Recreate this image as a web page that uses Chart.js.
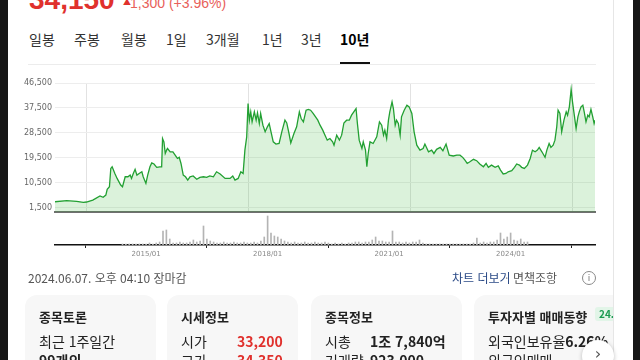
<!DOCTYPE html>
<html lang="ko">
<head>
<meta charset="utf-8">
<script src="https://cdn.jsdelivr.net/npm/chart.js@4.4.1/dist/chart.umd.min.js"></script>
<style>
  html, body { margin: 0; padding: 0; }
  body {
    width: 640px; height: 360px; overflow: hidden; position: relative;
    background: #fff; font-family: "Noto Sans CJK KR", sans-serif; color: #222;
  }
  .t { position: absolute; white-space: nowrap; line-height: 1; }
  .tab { top: 32px; font-size: 14px; color: #333; }
  canvas { position: absolute; left: 0; top: 0; }
  .card { position: absolute; top: 295px; height: 90px; background: #f7f7f7; border-radius: 12px; }
  .card .ttl { position: absolute; left: 14px; top: 15px; font-size: 13px; font-weight: bold; color: #222; line-height: 1; white-space: nowrap; }
  .card .row { position: absolute; left: 14px; font-size: 14px; line-height: 1; white-space: nowrap; color: #222; }
  .gray { color: #777; }
</style>
</head>
<body>
<!-- 좌우 검은 테두리 -->
<div style="position:absolute;left:0;top:0;width:8px;height:360px;background:#161616"></div>
<div style="position:absolute;left:633px;top:0;width:7px;height:360px;background:#161616"></div>
<div style="position:absolute;left:613px;top:0;width:1px;height:360px;background:#e6e6e6"></div>

<!-- 현재가 (윗부분 잘림) -->
<div class="t" style="left:29px;top:-16px;font:bold 28px 'Liberation Sans',Arial,sans-serif;color:#e0312d">34,150</div>
<div class="t" style="left:123px;top:-2px;font-size:8px;color:#e0312d">▲</div>
<div class="t" style="left:130px;top:-5px;font:14px 'Liberation Sans',Arial,sans-serif;color:#e8605a">1,300 (+3.96%)</div>

<!-- 기간 탭 -->
<div class="t tab" style="left:29px">일봉</div>
<div class="t tab" style="left:74px">주봉</div>
<div class="t tab" style="left:121px">월봉</div>
<div class="t tab" style="left:166px">1일</div>
<div class="t tab" style="left:206px">3개월</div>
<div class="t tab" style="left:262px">1년</div>
<div class="t tab" style="left:301px">3년</div>
<div class="t tab" style="left:340px;font-weight:bold;color:#000">10년</div>
<div style="position:absolute;left:28px;top:64px;width:568px;height:1px;background:#ececec"></div>
<div style="position:absolute;left:340px;top:62px;width:30px;height:2px;background:#111"></div>

<canvas id="priceChart" width="640" height="360"></canvas>
<canvas id="volumeChart" width="640" height="360"></canvas>

<!-- 하단 정보 -->
<div class="t" style="left:28px;top:272px;font-size:12px;color:#555">2024.06.07. 오후 04:10 장마감</div>
<div class="t" style="left:452px;top:272px;font-size:12px;color:#2b4a86">차트 더보기</div>
<div class="t" style="left:505px;top:272px;font-size:12px;color:#999">·</div>
<div class="t" style="left:513px;top:272px;font-size:12px;color:#555">면책조항</div>
<div style="position:absolute;left:582px;top:271px;width:12px;height:12px;border:1px solid #888;border-radius:50%;font:9px 'DejaVu Sans';color:#777;text-align:center;line-height:12px">i</div>

<!-- 카드 -->
<div style="position:absolute;left:0;top:0;width:613px;height:360px;overflow:hidden">
  <div class="card" style="left:25px;width:131px">
    <div class="ttl">종목토론</div>
    <div class="row" style="top:39px">최근 1주일간</div>
    <div class="row" style="top:58px;font-weight:bold">99개의</div>
  </div>
  <div class="card" style="left:167px;width:131px">
    <div class="ttl">시세정보</div>
    <div class="row gray" style="top:39px">시가</div>
    <div class="row" style="top:39px;left:70px;font-weight:bold;color:#e0312d">33,200</div>
    <div class="row gray" style="top:58px">고가</div>
    <div class="row" style="top:58px;left:70px;font-weight:bold;color:#e0312d">34,350</div>
  </div>
  <div class="card" style="left:311px;width:151px">
    <div class="ttl">종목정보</div>
    <div class="row gray" style="top:39px">시총</div>
    <div class="row" style="top:39px;left:59px;font-weight:bold">1조 7,840억</div>
    <div class="row gray" style="top:58px">거래량</div>
    <div class="row" style="top:58px;left:59px;font-weight:bold">923,000</div>
  </div>
  <div class="card" style="left:474px;width:160px">
    <div class="ttl">투자자별 매매동향</div>
    <div style="position:absolute;left:121px;top:12px;padding:2px 4px;background:#e2f5e8;color:#1a9a50;font-size:10px;font-weight:bold;border-radius:3px;line-height:1">24.06.07</div>
    <div class="row gray" style="top:39px">외국인보유율<b style="color:#222">6.26%</b></div>
    <div class="row gray" style="top:58px">외국인매매</div>
  </div>
</div>
<div style="position:absolute;left:582px;top:340px;width:32px;height:32px;border-radius:50%;background:#fff;box-shadow:0 1px 4px rgba(0,0,0,0.25);font:16px 'DejaVu Sans';color:#555;text-align:center;line-height:28px">&#8250;</div>

<script>
// 10년 차트: 2014/06 = 0 기준, 개월 수
const months = [0, 2.6, 4.8, 6.3, 7.0, 8.4, 10.0, 10.7, 11.3, 11.6, 12.1, 12.4, 12.7, 13.3, 13.8, 14.6, 15.0, 15.6, 16.2, 16.7,
  17.0, 17.4, 17.8, 18.2, 18.7, 19.3, 19.6, 20.2, 20.6, 21.1, 21.5, 22.0, 22.6, 23.3, 23.7, 23.9, 24.2, 24.5, 24.8, 25.0,
  25.6, 26.2, 26.7, 27.2, 27.6, 28.0, 28.5, 29.0, 29.5, 30.0, 30.7, 31.5, 32.2, 33.0, 33.7, 34.4, 35.2, 35.9, 36.7, 37.8,
  38.9, 39.5, 40.0, 40.7, 41.3, 41.8, 42.2, 42.6, 42.9, 43.2, 43.5, 43.8, 44.3, 44.7, 45.0, 45.4, 45.7, 46.2, 46.7, 47.2,
  47.6, 48.0, 48.5, 49.1, 49.8, 50.4, 51.1, 51.5, 52.0, 52.4, 53.1, 53.7, 54.3, 54.7, 55.2, 55.8, 56.3, 56.8, 57.4, 57.9,
  58.4, 58.9, 59.5, 60.0, 60.5, 61.1, 61.7, 62.0, 62.6, 63.2, 63.7, 64.2, 64.8, 65.4, 65.9, 66.4, 66.9, 67.2, 67.6, 68.2,
  68.5, 69.0, 69.3, 69.6, 70.0, 70.7, 71.5, 72.1, 72.6, 73.0, 73.3, 73.7, 74.1, 74.4, 74.9, 75.2, 75.6, 75.9, 76.3, 76.7,
  77.0, 77.6, 78.2, 78.7, 79.3, 79.8, 80.4, 81.1, 81.8, 82.2, 83.0, 83.7, 84.2, 84.8, 85.6, 86.2, 86.9, 87.6, 88.5, 89.3,
  90.0, 90.6, 91.1, 91.6, 92.2, 93.0, 93.7, 94.4, 95.2, 95.8, 96.3, 97.0, 97.8, 98.5, 99.0, 99.6, 100.2, 100.7, 101.5, 102.1,
  102.6, 103.2, 103.7, 104.3, 105.0, 105.6, 106.1, 106.7, 107.2, 107.6, 108.2, 108.9, 109.3, 109.8, 110.2, 110.7, 111.1, 111.5, 111.8, 112.2,
  112.6, 113.1, 113.6, 113.9, 114.3, 114.7, 115.0, 115.4, 115.8, 116.2, 116.5, 116.9, 117.3, 117.6, 118.0, 118.4, 118.7, 119.1, 119.5, 119.8,
  120.0]
const prices = [3700, 4100, 3850, 3500, 3600, 4300, 5800, 5300, 6100, 8200, 9100, 15700, 16300, 13900, 12100, 9700, 9100, 12700, 12700, 13300,
  12100, 13900, 15400, 13300, 13900, 14500, 12700, 10300, 13300, 16300, 17700, 17300, 16100, 16300, 16300, 26500, 25300, 21100, 22300, 22900,
  21700, 21700, 20500, 19300, 19700, 17500, 13300, 12700, 11500, 12700, 13000, 11800, 12500, 12700, 12500, 13000, 12700, 14500, 13700, 12100,
  12100, 13000, 11500, 12100, 14500, 13900, 22300, 27100, 39100, 33100, 36100, 32500, 36100, 33100, 35700, 31900, 35500, 31300, 28900, 30700,
  31900, 28900, 25300, 24500, 24700, 28900, 33100, 32100, 28300, 24900, 28300, 30700, 36100, 33700, 32500, 36700, 37000, 36700, 35500, 34300,
  33100, 31300, 29500, 27700, 25900, 26500, 25300, 24100, 27700, 25900, 27700, 32100, 33100, 33100, 34900, 36100, 37300, 31900, 25900, 22900,
  25300, 22300, 16300, 21100, 25300, 24700, 27100, 32500, 31300, 27700, 29500, 26500, 33100, 36100, 39700, 37300, 31300, 33100, 31900, 27700,
  34300, 36700, 38500, 37900, 35500, 28900, 24100, 22300, 22900, 24500, 21700, 22300, 21100, 22600, 23300, 22100, 24500, 20500, 20200, 20500,
  20500, 19700, 18700, 17500, 18100, 19000, 18500, 17300, 16300, 17500, 16100, 16900, 16100, 16600, 15100, 13700, 13900, 14500, 14900, 16100,
  17300, 16900, 16100, 15700, 16900, 19300, 22300, 21700, 22300, 23300, 21700, 19700, 22300, 24700, 23300, 24100, 25900, 30700, 36700, 35500,
  28900, 33100, 36100, 34900, 37900, 44200, 39700, 34900, 30100, 34300, 36100, 37900, 38500, 36100, 32500, 34900, 34300, 37000, 34300, 31900,
  33100]

// 월별 거래량 (단위 임의, 2014/06 ~ 2024/06)
const volumes = [1, 1, 1, 1, 1, 1, 1, 1, 2, 1, 2,
  3, 14, 15, 6, 2,
  2, 3, 2, 2, 3, 5, 3,
  4, 19, 6, 4,
  3, 2, 2, 3, 2, 2, 3, 2, 2, 3,
  2, 2, 3, 2, 4,
  8, 29, 12, 9, 8, 6, 4,
  3, 2, 3, 2, 2, 3, 2, 2, 3, 2, 2, 3,
  2, 1, 2, 1, 2, 1, 2, 2,
  3, 3, 2, 3, 3,
  5, 8, 4, 4, 3, 3, 14, 3,
  3, 2, 3, 2, 3, 3, 5,
  2, 1, 1, 1, 1, 1, 1, 1, 1, 1, 1, 1, 1, 1, 1, 2,
  7, 2, 3, 2, 3, 3, 5, 12, 6, 8, 12,
  5, 4, 6, 3, 3]

const priceTicks = [1500, 10500, 19500, 28500, 37500, 46500]
const dateTickMonths = [7, 43, 79, 115]
const dateTickLabels = ['2015/01', '2018/01', '2021/01', '2024/01']

let pricePoints = months.map((m, i) => ({ x: m, y: prices[i] }))
let volumePoints = volumes.map((v, i) => ({ x: i, y: v }))

new Chart(document.getElementById('priceChart'), {
    type: 'line',
    data: {
        datasets: [{
            data: pricePoints,
            borderColor: '#22a032',
            borderWidth: 1.3,
            backgroundColor: 'rgba(40, 180, 40, 0.17)',
            fill: 'origin',
            pointRadius: 0,
            tension: 0
        }]
    },
    options: {
        responsive: false,
        animation: false,
        devicePixelRatio: 1,
        layout: { padding: { left: 0, right: 45, top: 83, bottom: 148 } },
        plugins: { legend: { display: false }, tooltip: { enabled: false } },
        scales: {
            x: {
                type: 'linear',
                min: 0,
                max: 120,
                afterBuildTicks: s => { s.ticks = dateTickMonths.map(v => ({ value: v })) },
                afterFit: s => { s.height = 0 },
                ticks: { display: false },
                grid: { color: '#e2e2e2', drawTicks: false },
                border: { color: '#6f6f6f', width: 2 }
            },
            y: {
                min: 0,
                max: 46500,
                afterBuildTicks: s => { s.ticks = priceTicks.map(v => ({ value: v })) },
                afterFit: s => { s.width = 55 },
                ticks: {
                    padding: 3,
                    color: '#666',
                    font: { family: 'DejaVu Sans', size: 8 },
                    callback: v => v.toLocaleString('en-US')
                },
                grid: { color: '#ededed', drawTicks: false },
                border: { display: false }
            }
        }
    }
});

new Chart(document.getElementById('volumeChart'), {
    type: 'bar',
    data: {
        datasets: [{
            data: volumePoints,
            backgroundColor: '#b4b4b4',
            barThickness: 1
        }]
    },
    options: {
        responsive: false,
        animation: false,
        devicePixelRatio: 1,
        layout: { padding: { left: 55, right: 45, top: 215, bottom: 100 } },
        plugins: { legend: { display: false }, tooltip: { enabled: false } },
        scales: {
            x: {
                type: 'linear',
                min: 0,
                max: 120,
                afterBuildTicks: s => { s.ticks = dateTickMonths.map(v => ({ value: v })) },
                afterFit: s => { s.height = 15 },
                ticks: {
                    padding: 2,
                    color: '#888',
                    font: { family: 'DejaVu Sans', size: 7 },
                    maxRotation: 0,
                    callback: v => dateTickLabels[dateTickMonths.indexOf(v)]
                },
                grid: { drawOnChartArea: false, tickLength: 3, tickColor: '#222' },
                border: { color: '#111', width: 1.5 }
            },
            y: {
                display: false,
                min: 0,
                max: 30
            }
        }
    }
});
</script>
</body>
</html>
